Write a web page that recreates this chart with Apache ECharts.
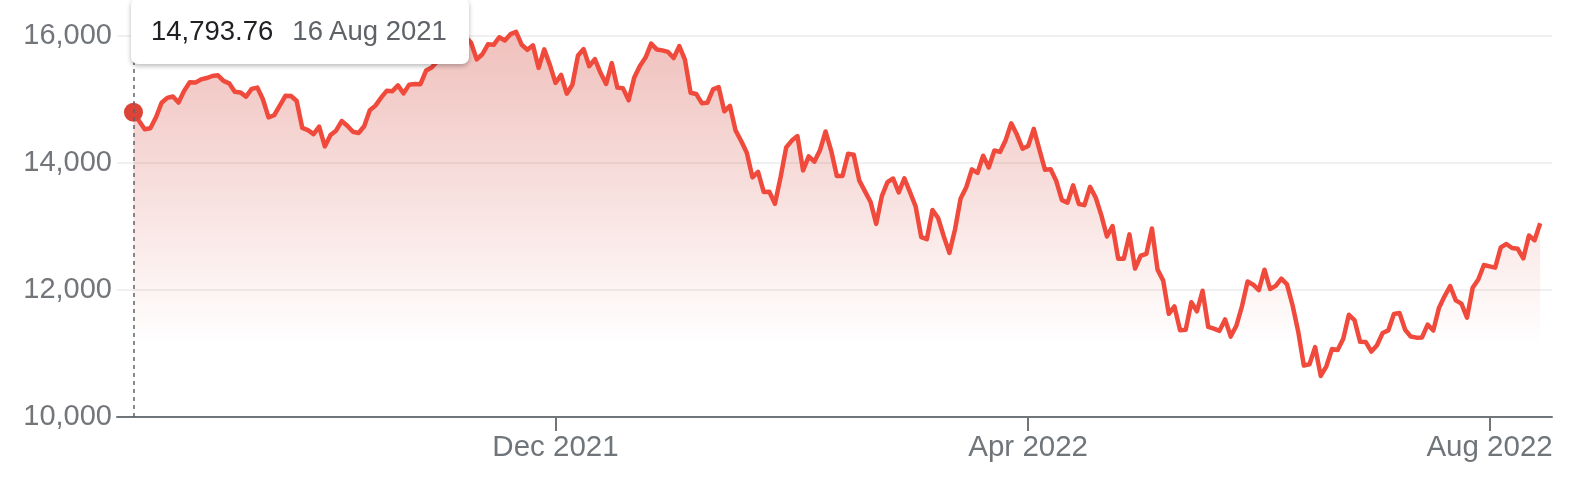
<!DOCTYPE html>
<html>
<head>
<meta charset="utf-8">
<script src="https://cdn.jsdelivr.net/npm/echarts@6/dist/echarts.min.js"></script>
<style>
  html, body { margin: 0; padding: 0; background: #ffffff; }
  #chart { width: 1584px; height: 494px; }
</style>
</head>
<body>
<div id="chart"></div>
<script>
// ---- data (daily closes, trading days from 16 Aug 2021) ----
const startDate = '2021-08-16';
const endDate = '2022-08-12';
const marketHolidays = ['2021-09-06', '2021-11-25', '2021-12-24', '2022-01-17', '2022-02-21',
  '2022-04-15', '2022-05-30', '2022-06-20', '2022-07-04'];
const values = [
  // Aug 2021
  14793.76, 14656, 14525, 14541, 14714, 14942, 15019, 15041, 14945, 15129, 15265, 15259,
  // Sep 2021
  15309, 15331, 15363, 15374, 15286, 15248, 15115, 15105, 15037, 15161, 15181, 14997, 14713, 14746, 14896, 15052, 15048, 14970, 14546, 14512, 14448,
  // Oct 2021
  14567, 14255, 14433, 14502, 14655, 14580, 14486, 14466, 14572, 14824, 14897, 15022, 15130, 15122, 15216, 15090, 15227, 15236, 15235, 15449, 15498,
  // Nov 2021
  15595, 15650, 15812, 15940, 15972, 15982, 15886, 15623, 15705, 15861, 15853, 15973, 15921, 16021, 16057, 15854, 15775, 15845, 15491, 15782, 15538,
  // Dec 2021
  15254, 15381, 15085, 15225, 15686, 15786, 15517, 15630, 15413, 15237, 15566, 15180, 15169, 14981, 15341, 15522, 15653, 15871, 15781, 15766, 15742, 15645,
  // Jan 2022
  15833, 15622, 15100, 15081, 14936, 14943, 15153, 15188, 14807, 14894, 14507, 14341, 14155, 13769, 13856, 13540, 13542, 13353, 13771, 14240,
  // Feb 2022
  14347, 14418, 13879, 14098, 14015, 14194, 14490, 14186, 13791, 13790, 14140, 14125, 13717, 13548, 13382, 13038, 13474, 13695, 13751,
  // Mar 2022
  13532, 13752, 13537, 13313, 12830, 12796, 13256, 13130, 12843, 12581, 12949, 13437, 13614, 13894, 13838, 14109, 13923, 14191, 14169, 14354, 14619, 14442, 14221,
  // Apr 2022
  14261, 14532, 14204, 13888, 13897, 13711, 13411, 13371, 13644, 13351, 13332, 13619, 13453, 13174, 12839, 13004, 12490, 12488, 12872, 12335,
  // May 2022
  12536, 12564, 12965, 12318, 12145, 11623, 11738, 11365, 11371, 11805, 11663, 11985, 11418, 11389, 11355, 11535, 11265, 11434, 11741, 12131, 12081,
  // Jun 2022
  11995, 12317, 12013, 12062, 12175, 12087, 11754, 11341, 10809, 10829, 11099, 10646, 10798, 11069, 11053, 11232, 11608, 11524, 11182, 11178, 11029,
  // Jul 2022
  11128, 11322, 11362, 11621, 11635, 11373, 11265, 11248, 11252, 11452, 11360, 11713, 11898, 12060, 11835, 11782, 11563, 12033, 12163, 12391,
  // Aug 2022
  12369, 12349, 12668, 12721, 12658, 12645, 12494, 12855, 12780, 13047
];
const tickMonths = ['2021-12', '2022-04', '2022-08'];
const yTicks = [10000, 12000, 14000, 16000];
const monthNames = ['Jan','Feb','Mar','Apr','May','Jun','Jul','Aug','Sep','Oct','Nov','Dec'];

// ---- build trading-day list (categories) ----
const dates = [];
(function () {
  const d = new Date(startDate + 'T12:00:00Z');
  const end = new Date(endDate + 'T12:00:00Z');
  while (d <= end) {
    const iso = d.toISOString().slice(0, 10);
    const wd = d.getUTCDay();
    if (wd !== 0 && wd !== 6 && marketHolidays.indexOf(iso) < 0) dates.push(iso);
    d.setUTCDate(d.getUTCDate() + 1);
  }
})();

const seriesData = values.map((v, i) => [i, v]);
const tickIdx = tickMonths.map(m => dates.findIndex(s => s.slice(0, 7) === m));
function monthLabel(i) {
  const s = dates[i];
  return monthNames[+s.slice(5, 7) - 1] + ' ' + s.slice(0, 4);
}
function dayLabel(i) {
  const s = dates[i];
  return (+s.slice(8, 10)) + ' ' + monthNames[+s.slice(5, 7) - 1] + ' ' + s.slice(0, 4);
}
function fmtNum(v, dec) {
  return v.toLocaleString('en-US', { minimumFractionDigits: dec, maximumFractionDigits: dec });
}

const RED = '#db4437';
const FONT = '"Liberation Sans", Arial, Helvetica, sans-serif';
const CSSFONT = FONT.replace(/"/g, "'");
const chart = echarts.init(document.getElementById('chart'), null, { renderer: 'canvas' });

chart.setOption({
  animation: false,
  backgroundColor: '#ffffff',
  textStyle: { fontFamily: FONT },
  grid: { left: 117, right: 32, top: 35.5, bottom: 77, containLabel: false, outerBoundsMode: 'none' },
  xAxis: {
    type: 'value',
    min: -2.93,
    max: 252.1,
    axisLine: { show: true, lineStyle: { color: '#70757a', width: 2 } },
    axisTick: { show: true, customValues: tickIdx, length: 14, lineStyle: { color: '#70757a', width: 2 } },
    axisLabel: {
      customValues: tickIdx,
      formatter: v => monthLabel(Math.round(v)),
      fontSize: 29.5, color: '#70757a', margin: 16, fontFamily: FONT
    },
    splitLine: { show: false },
    axisPointer: {
      show: true, type: 'line', snap: true,
      label: { show: false },
      lineStyle: { color: '#5f6368', width: 1.5, type: [4, 4] }
    }
  },
  yAxis: {
    type: 'value',
    min: yTicks[0],
    max: yTicks[yTicks.length - 1],
    interval: 2000,
    axisLine: { show: false },
    axisTick: { show: false },
    axisLabel: {
      formatter: v => fmtNum(v, 0),
      fontSize: 29, color: '#72767a', margin: 5, fontFamily: FONT
    },
    splitLine: { show: true, lineStyle: { color: '#ebebeb', width: 1.5 } }
  },
  tooltip: {
    trigger: 'axis',
    alwaysShowContent: true,
    showDelay: 0,
    transitionDuration: 0,
    position: [131, -2],
    backgroundColor: '#ffffff',
    borderWidth: 0,
    padding: [16, 22, 16, 20],
    extraCssText: 'border-radius:7px;box-shadow:0 2px 5px rgba(0,0,0,0.28);line-height:34px;',
    textStyle: { fontFamily: FONT, fontSize: 27.5, color: '#202124' },
    formatter: function (params) {
      const p = Array.isArray(params) ? params[0] : params;
      const i = p.dataIndex;
      return '<span style="color:#202124;font-size:27.5px;font-family:' + CSSFONT + '">' + fmtNum(values[i], 2) + '</span>' +
        '<span style="color:#5f6368;font-size:27.5px;margin-left:19px;font-family:' + CSSFONT + '">' + dayLabel(i) + '</span>';
    }
  },
  series: [{
    type: 'line',
    data: seriesData,
    clip: false,
    showSymbol: false,
    symbol: 'circle',
    symbolSize: 19,
    itemStyle: { color: RED },
    lineStyle: { color: RED, width: 4.5, join: 'round' },
    emphasis: { scale: false, lineStyle: { width: 4.5 } },
    areaStyle: {
      opacity: 1,
      color: new echarts.graphic.LinearGradient(0, 36, 0, 345, [
        { offset: 0, color: 'rgba(190,60,50,0.33)' },
        { offset: 1, color: 'rgba(190,60,50,0.0)' }
      ], true)
    }
  }]
});

chart.dispatchAction({ type: 'showTip', seriesIndex: 0, dataIndex: 0 });
</script>
</body>
</html>
